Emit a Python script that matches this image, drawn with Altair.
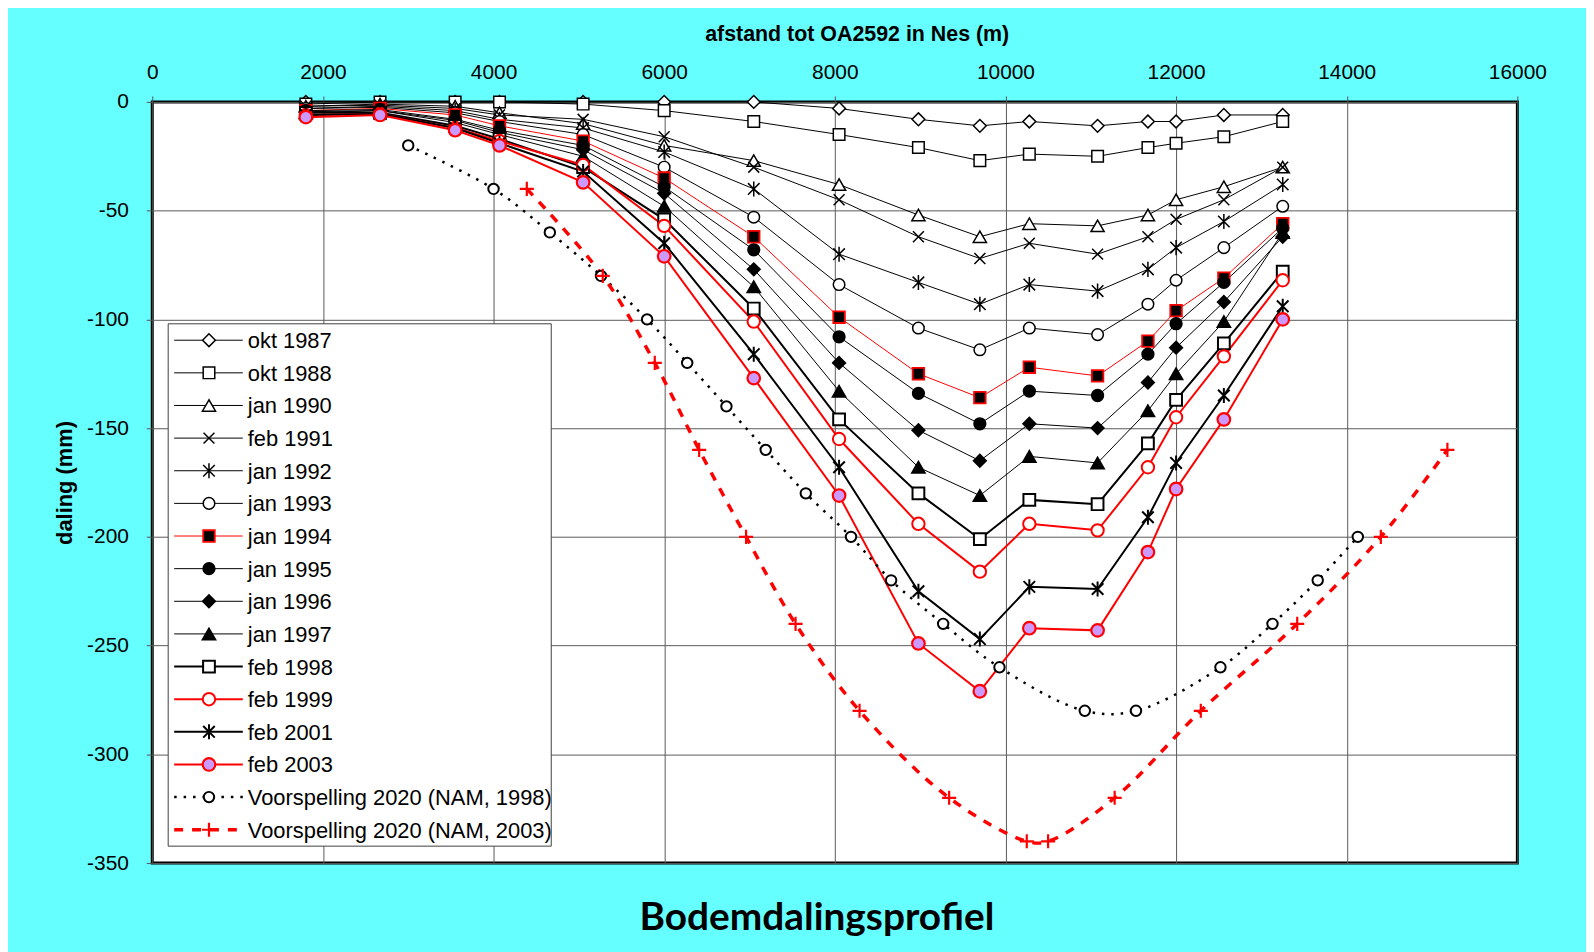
import altair as alt
import pandas as pd

# ---------------- data ----------------
x_pos = [1800, 2670, 3550, 4070, 5050, 6000, 7050, 8050, 8980, 9700, 10280, 11080, 11670, 12000, 12560, 13250]

okt_1987 = [0, 0, 0, 0, 0, 0, 0, -3, -8, -11, -9, -11, -9, -9, -6, -6]
okt_1988 = [-1, 0, 0, 0, -1, -4, -9, -15, -21, -27, -24, -25, -21, -19, -16, -9]
jan_1990 = [-2, -1, -2, -5, -10, -20, -27, -38, -52, -62, -56, -57, -52, -45, -39, -30]
feb_1991 = [-2, -1.5, -3, -6, -8, -16, -30, -45, -62, -72, -65, -70, -62, -54, -45, -30]
jan_1992 = [-3, -2, -4, -8, -12, -23, -40, -70, -83, -93, -84, -87, -77, -67, -55, -38]
jan_1993 = [-3, -2.5, -5, -9, -15, -30, -53, -84, -104, -114, -104, -107, -93, -82, -67, -48]
jan_1994 = [-4, -3, -6, -11, -18, -35, -62, -99, -125, -136, -122, -126, -110, -96, -81, -56]
jan_1995 = [-4, -3.5, -8, -13, -20, -39, -68, -108, -134, -148, -133, -135, -116, -102, -83, -58]
jan_1996 = [-4.5, -4, -8.5, -14, -22, -42, -77, -120, -151, -165, -148, -150, -129, -113, -92, -62]
jan_1997 = [-5, -4, -9.5, -15, -25, -48, -85, -133, -168, -181, -163, -166, -142, -125, -101, -60]
feb_1998 = [-5, -5, -11, -17, -30, -54, -95, -146, -180, -201, -183, -185, -157, -137, -111, -78]
feb_1999 = [-6, -5.5, -12, -18, -29, -57, -101, -155, -194, -216, -194, -197, -168, -145, -117, -82]
feb_2001 = [-6, -5.5, -12, -19, -32, -65, -116, -168, -225, -247, -223, -224, -191, -166, -135, -94]
feb_2003 = [-7, -6, -13, -20, -37, -71, -127, -181, -249, -271, -242, -243, -207, -178, -146, -100]

nam1998_x = [3000, 4000, 4660, 5260, 5800, 6270, 6730, 7190, 7660, 8190, 8660, 9270, 9930, 10930, 11530, 12520, 13130, 13660, 14130]
nam1998_y = [-20, -40, -60, -80, -100, -120, -140, -160, -180, -200, -220, -240, -260, -280, -280, -260, -240, -220, -200]
nam2003_x = [4390, 5280, 5890, 6410, 6960, 7540, 8290, 9340, 10250, 10500, 11280, 12290, 13420, 14400, 15180]
nam2003_y = [-40, -80, -120, -160, -200, -240, -280, -320, -340, -340, -320, -280, -240, -200, -160]

names = ["okt 1987", "okt 1988", "jan 1990", "feb 1991", "jan 1992", "jan 1993", "jan 1994",
         "jan 1995", "jan 1996", "jan 1997", "feb 1998", "feb 1999", "feb 2001", "feb 2003",
         "Voorspelling 2020 (NAM, 1998)", "Voorspelling 2020 (NAM, 2003)"]

measured = [okt_1987, okt_1988, jan_1990, feb_1991, jan_1992, jan_1993, jan_1994, jan_1995,
            jan_1996, jan_1997, feb_1998, feb_1999, feb_2001, feb_2003]

rows = []
for i, vals in enumerate(measured):
    for xv, yv in zip(x_pos, vals):
        rows.append({"series": names[i], "idx": i, "x": xv, "y": yv})
for i, (xs_, ys_) in ((14, (nam1998_x, nam1998_y)), (15, (nam2003_x, nam2003_y))):
    for xv, yv in zip(xs_, ys_):
        rows.append({"series": names[i], "idx": i, "x": xv, "y": yv})
all_df = pd.DataFrame(rows)

# ---------------- styles ----------------
RED, BLACK, WHITE, PURPLE = "#FF0000", "#000000", "#FFFFFF", "#CC99FF"
X_PATH = "M-1,-1L1,1M-1,1L1,-1"
AST_PATH = "M-1,-1L1,1M-1,1L1,-1M0,-1.3L0,1.3"
PLUS_PATH = "M-1,0L1,0M0,-1L0,1"

line_colors = [BLACK] * 6 + [RED] + [BLACK] * 4 + [RED, BLACK, RED, BLACK, RED]
shapes = ["diamond", "square", "triangle-up", X_PATH, AST_PATH, "circle", "square", "circle",
          "diamond", "triangle-up", "square", "circle", AST_PATH, "circle", "circle", PLUS_PATH]
fills = [WHITE] * 6 + [BLACK] * 4 + [WHITE, WHITE, WHITE, PURPLE, WHITE, WHITE]
strokes = line_colors
sizes = [165, 135, 175, 120, 135, 135, 135, 140, 165, 180, 140, 155, 135, 160, 110, 200]
pt_widths = [1.5] * 6 + [1.8] + [1.5] * 3 + [2.0, 2.0, 2.0, 2.2, 2.0, 2.2]

# line groups: (index filter, width, dash, interpolation)
line_groups = [
    (list(range(0, 10)), 1.0, None, "linear"),
    (list(range(10, 14)), 2.0, None, "linear"),
    ([14], 2.5, [2.5, 7], "catmull-rom"),
    ([15], 3.5, [9, 9], "catmull-rom"),
]

W, H = 1372, 765
XMAX, YMIN = 16000, -350
GRID = "#5a5a5a"

xs = alt.Scale(domain=[0, XMAX], nice=False, zero=False)
ys = alt.Scale(domain=[YMIN, 0], nice=False, zero=False)

x_axis = alt.Axis(orient="top", values=list(range(0, 16001, 2000)), format="d",
                  title="afstand tot OA2592 in Nes (m)", titleX=708, titleY=-68,
                  titleAlign="center", titleBaseline="middle", titleAngle=0,
                  titleFont="Liberation Sans", titleFontSize=21.5, titleFontWeight="bold",
                  labelFont="Liberation Sans", labelFontSize=21, labelColor=BLACK,
                  labelPadding=14, tickSize=6, tickColor="#555555", domain=False,
                  grid=True, gridColor=GRID, gridWidth=1, labelFlush=False)
y_axis = alt.Axis(orient="left", values=list(range(-350, 1, 50)), labelExpr="'' + datum.value",
                  title="daling (mm)", titleX=-88, titleY=H / 2, titleAngle=270,
                  titleAlign="center", titleBaseline="middle",
                  titleFont="Liberation Sans", titleFontSize=22, titleFontWeight="bold",
                  labelFont="Liberation Sans", labelFontSize=21, labelColor=BLACK,
                  labelPadding=18, tickSize=6, tickColor="#555555", domain=False,
                  grid=True, gridColor=GRID, gridWidth=1, labelFlush=False)

X = alt.X("x:Q", scale=xs, axis=x_axis)
Y = alt.Y("y:Q", scale=ys, axis=y_axis)

color_enc = alt.Color("series:N", scale=alt.Scale(domain=names, range=line_colors), legend=None)

layers = []
for idxs, width, dash, interp in line_groups:
    d = all_df[all_df["idx"].isin(idxs)]
    kw = dict(interpolate=interp, strokeWidth=width)
    if dash:
        kw["strokeDash"] = dash
    layers.append(alt.Chart(d).mark_line(**kw).encode(
        x=X, y=Y, color=color_enc, detail="series:N", order="x:Q"))


def point_layers(df, xfield="x"):
    out = []
    for i in range(len(names)):
        d = df[df["idx"] == i]
        out.append(alt.Chart(d).mark_point(
            opacity=1, shape=shapes[i], fill=fills[i], stroke=strokes[i],
            size=sizes[i], strokeWidth=pt_widths[i]).encode(
            x=alt.X(f"{xfield}:Q", scale=xs, axis=x_axis), y=Y))
    return out


layers += point_layers(all_df)

# ---------------- manual legend (placed in data units) ----------------
px2x = XMAX / W
px2y = -YMIN / H
def dx(px):
    return px * px2x
def dy(px):
    return -px * px2y

box_df = pd.DataFrame([{"x": dx(16), "x2": dx(401), "y": dy(223), "y2": dy(748)}])
leg_rows = []
for i, n in enumerate(names):
    yy = dy(239.5 + 32.8 * i)
    leg_rows.append({"series": n, "idx": i, "x": dx(22), "x2": dx(91), "xm": dx(57),
                     "xt": dx(96), "y": yy})
leg_df = pd.DataFrame(leg_rows)

layers.append(alt.Chart(box_df).mark_rect(fill=WHITE, stroke="#404040", strokeWidth=1).encode(
    x=X, x2="x2", y=Y, y2="y2"))
for idxs, width, dash, interp in line_groups:
    d = leg_df[leg_df["idx"].isin(idxs)]
    kw = dict(strokeWidth=width)
    if dash:
        kw["strokeDash"] = dash
    layers.append(alt.Chart(d).mark_rule(**kw).encode(x=X, x2="x2", y=Y, color=color_enc))
layers += point_layers(leg_df, "xm")
layers.append(alt.Chart(leg_df).mark_text(align="left", baseline="middle", font="Liberation Sans",
                                          fontSize=22, color=BLACK, dy=1).encode(
    x=alt.X("xt:Q", scale=xs, axis=x_axis), y=Y, text="series:N"))

chart = alt.layer(*layers).properties(
    width=W, height=H,
    background="#66FFFF",
    padding={"left": 145, "top": 92, "right": 69, "bottom": 87},
    autosize=alt.AutoSizeParams(type="none"),
    title=alt.TitleParams("Bodemdalingsprofiel", orient="bottom", anchor="middle",
                          font="Lato", fontSize=39, fontWeight="bold", color=BLACK,
                          dx=-18, offset=57, baseline="alphabetic"),
).configure_view(stroke=BLACK, strokeWidth=3, fill=WHITE)

chart.save("out.html", embed_options={"renderer": "svg", "actions": False})
